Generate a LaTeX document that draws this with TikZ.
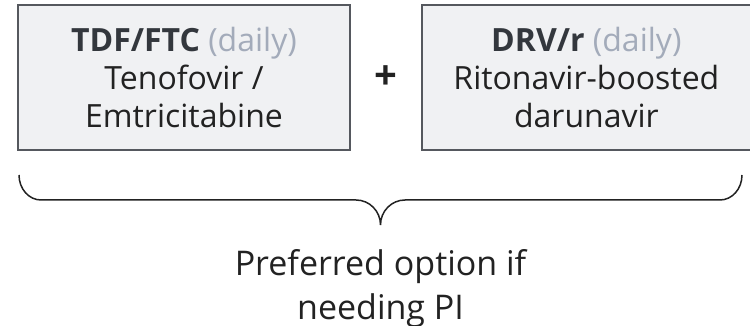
\documentclass[tikz,border=0pt]{standalone}
\usepackage{fontspec}
\setmainfont{Open Sans}
\usetikzlibrary{positioning}
\definecolor{boxfill}{HTML}{F0F1F3}
\definecolor{boxline}{HTML}{55585E}
\definecolor{inkdark}{HTML}{222222}
\definecolor{boldgray}{HTML}{33373D}
\definecolor{dailygray}{HTML}{A3ABBA}
\tikzset{
  x=1pt, y=1pt,
  drugbox/.style={draw=boxline, line width=1.5pt, fill=boxfill, minimum height=145pt, align=center, inner sep=0pt, text=inkdark, font=\fontsize{32}{38}\selectfont}, % the two drug boxes
  plus/.style={minimum width=70pt, inner sep=0pt, text=inkdark, font=\fontsize{40}{44}\selectfont\bfseries},
  bracket/.style={draw=inkdark, line width=1.5pt},
  note/.style={align=center, inner sep=0pt, text=inkdark, font=\fontsize{34}{44}\selectfont},
}
\newcommand{\drugname}[2]{\textcolor{boldgray}{\textbf{#1}} \textcolor{dailygray}{(#2)}}

\begin{document}
\begin{tikzpicture}
  \useasboundingbox (0,0) rectangle (750,326);

  \node[drugbox, minimum width=332pt] (tdf) at (184,248.5) {\drugname{TDF/FTC}{daily}\\Tenofovir /\\Emtricitabine};
  \node[plus, right=0pt of tdf] (plus) {+};
  \node[drugbox, minimum width=329pt, right=0pt of plus] (drv) {\drugname{DRV/r}{daily}\\Ritonavir-boosted\\darunavir};

  % brace under both boxes
  \coordinate (braceL) at (19,151);
  \coordinate (braceR) at (742,151);
  \coordinate (tip) at (380.5,101);
  \draw[bracket] (braceL) arc (180:270:22 and 25) -- ++(315,0)
    arc (90:0:24.5 and 25) -- (tip)
    arc (180:90:24.5 and 25) -- ++(315,0)
    arc (270:360:22 and 25) -- (braceR);

  \node[note, below=24pt of tip] (pref) {Preferred option if\\needing PI};
\end{tikzpicture}
\end{document}
